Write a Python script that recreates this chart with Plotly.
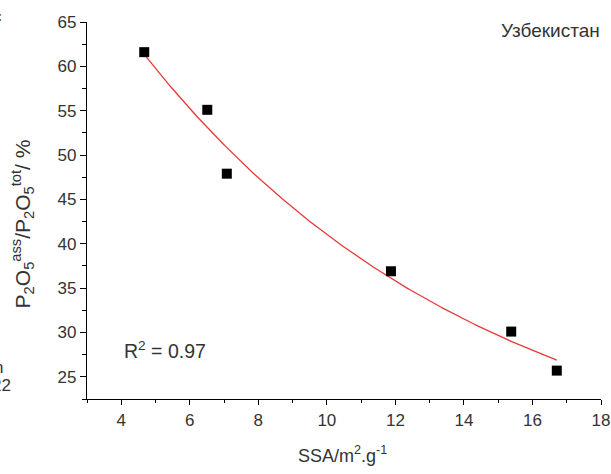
import numpy as np
import plotly.graph_objects as go

# Data
ssa = [4.67, 6.51, 7.08, 11.87, 15.38, 16.71]
ratio = [61.6, 55.1, 47.9, 36.9, 30.1, 25.7]
x_ticks = [4, 6, 8, 10, 12, 14, 16, 18]
y_ticks = [25, 30, 35, 40, 45, 50, 55, 60, 65]
label_country = "Узбекистан"
label_r2 = "R<sup>2</sup> = 0.97"

# Exponential decay fit y = A*exp(-x/t) + y0 (grid search on t, least squares for A, y0)
xa = np.array(ssa)
ya = np.array(ratio)
best = None
for t in np.linspace(1, 200, 4000):
    M = np.column_stack([np.exp(-xa / t), np.ones_like(xa)])
    coef, *_ = np.linalg.lstsq(M, ya, rcond=None)
    err = np.sum((M @ coef - ya) ** 2)
    if best is None or err < best[0]:
        best = (err, t, coef)
_, t_fit, (A_fit, y0_fit) = best
xf = np.linspace(xa.min(), xa.max(), 200)
yf = A_fit * np.exp(-xf / t_fit) + y0_fit

W, H = 611, 474
L, R, T, B = 87.3, 10, 22, 74.5
pw, ph = W - L - R, H - T - B

def px(xp):
    return (xp - L) / pw

def py(yp):
    return (H - B - yp) / ph

font = "Arial, Liberation Sans, sans-serif"
tc = "#333333"

fig = go.Figure()
fig.add_trace(go.Scatter(x=xf, y=yf, mode="lines",
                         line=dict(color="#e8393a", width=1.3),
                         hoverinfo="skip", showlegend=False))
fig.add_trace(go.Scatter(x=ssa, y=ratio, mode="markers",
                         marker=dict(symbol="square", size=10, color="black"),
                         showlegend=False))

axis_common = dict(showline=True, linecolor="black", linewidth=1.2,
                   ticks="outside", tickwidth=1.2, tickcolor="black",
                   showgrid=False, zeroline=False, automargin=False,
                   tickfont=dict(family=font, size=17, color=tc))

fig.update_xaxes(range=[3, 18], tickvals=x_ticks, ticklen=5, **axis_common,
                 minor=dict(ticks="outside", ticklen=3, tickwidth=1.2,
                            tickcolor="black", dtick=1, showgrid=False))
fig.update_yaxes(range=[22.5, 65], tickvals=y_ticks, ticklen=6, **axis_common,
                 minor=dict(ticks="outside", ticklen=4, tickwidth=1.2,
                            tickcolor="black", dtick=2.5, showgrid=False))

annots = [
    dict(x=px(602), y=py(31), text=label_country, xanchor="right", yanchor="middle",
         font=dict(family=font, size=19, color=tc)),
    dict(x=px(122), y=py(350), text=label_r2, xanchor="left", yanchor="middle",
         font=dict(family=font, size=19.5, color=tc)),
    dict(x=px(343), y=py(455), text="SSA/m<sup>2</sup>.g<sup>-1</sup>",
         xanchor="center", yanchor="middle",
         font=dict(family=font, size=18, color=tc)),
    dict(x=px(23), y=py(224),
         text="P<sub>2</sub>O<sub>5</sub><sup>ass</sup>/P<sub>2</sub>O<sub>5</sub><sup>tot</sup>/ %",
         textangle=-90, xanchor="center", yanchor="middle",
         font=dict(family=font, size=21, color=tc)),
    # fragments of a neighbouring panel cut at the left edge
    dict(x=px(4), y=py(16), text="c", xanchor="right", yanchor="middle",
         font=dict(family=font, size=17, color=tc)),
    dict(x=px(5), y=py(368), text="n", xanchor="right", yanchor="middle",
         font=dict(family=font, size=17, color=tc)),
    dict(x=px(13), y=py(386), text="22", xanchor="right", yanchor="middle",
         font=dict(family=font, size=17, color=tc)),
]
for a in annots:
    a.update(xref="paper", yref="paper", showarrow=False)

fig.update_layout(width=W, height=H, margin=dict(l=L, r=R, t=T, b=B, autoexpand=False),
                  plot_bgcolor="white", paper_bgcolor="white",
                  annotations=annots, font=dict(family=font))

fig.write_html("out.html")
